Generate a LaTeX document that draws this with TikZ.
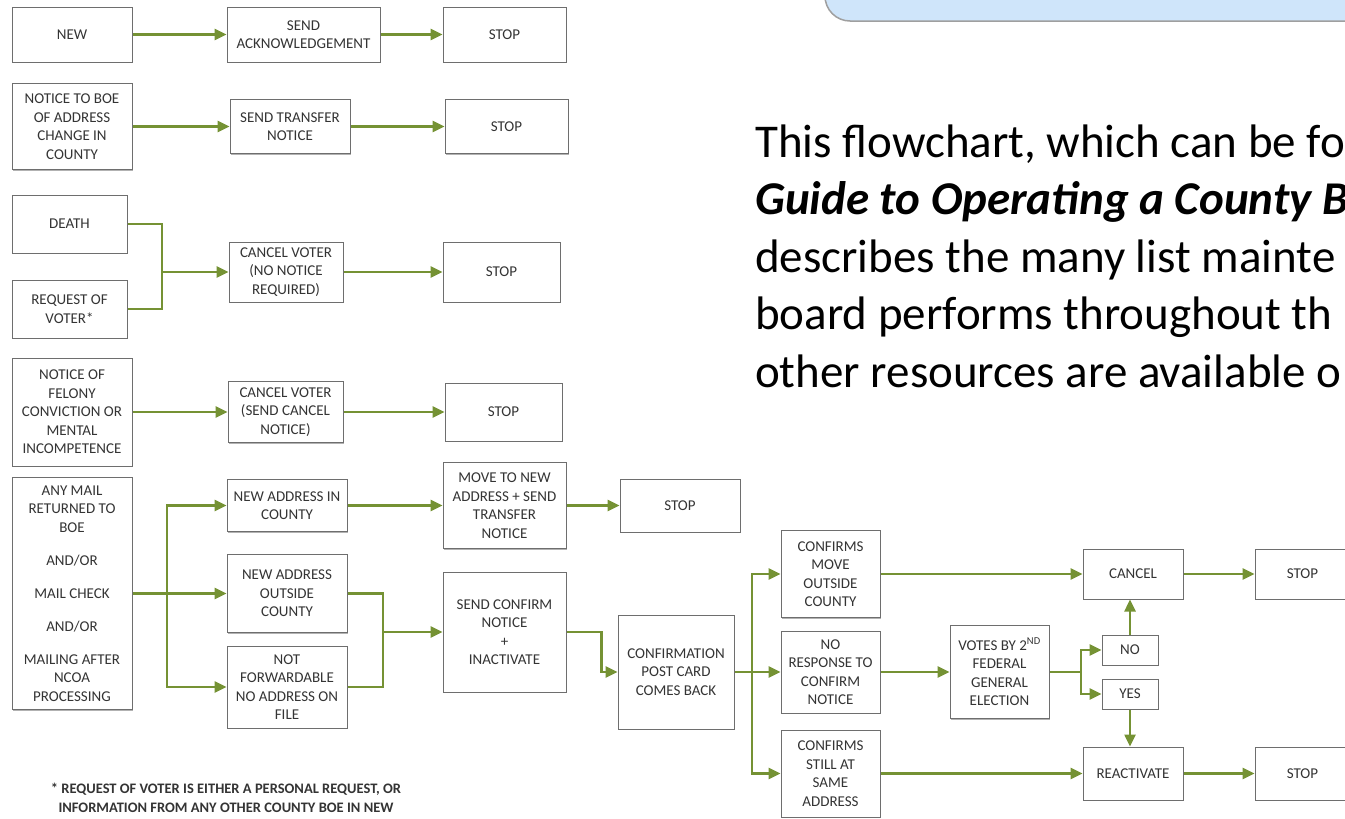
\documentclass[tikz,border=0pt]{standalone}
\usepackage{fontspec}
\setmainfont{Carlito}
\usepackage{xcolor}
\usetikzlibrary{positioning,arrows.meta,shadows}
\definecolor{flowgreen}{RGB}{117,146,52}
\definecolor{boxgray}{RGB}{110,110,110}
\definecolor{labelgray}{RGB}{52,52,52}
\definecolor{bannerblue}{RGB}{207,229,250}

\begin{document}
\begin{tikzpicture}[x=1pt,y=-1pt,
  flowbox/.style={draw=boxgray, line width=1pt, fill=white, align=center, inner sep=0pt,
    text=labelgray, font=\fontsize{15}{18.5}\selectfont,
    drop shadow={shadow xshift=0.6pt,shadow yshift=-1.3pt,fill=black,opacity=0.3}},
  flow/.style={draw=flowgreen, line width=2.5pt},
  paratext/.style={anchor=base west, inner sep=0pt, font=\fontsize{47}{57.5}\selectfont},
  >={Triangle[length=12pt,width=11pt]}]
\useasboundingbox (0,0) rectangle (1345,819);

\filldraw[fill=bannerblue, draw=gray!75, line width=1.5pt, rounded corners=25pt] (825,-40) rectangle (1420,21);

\node[paratext] (para1) at (755,157) {This flowchart, which can be fo};
\node[paratext, font=\fontsize{47}{57.5}\selectfont\bfseries\itshape] (para2) at (755,214.5) {Guide to Operating a County B};
\node[paratext] (para3) at (755,272) {describes the many list mainte};
\node[paratext] (para4) at (755,329.5) {board performs throughout th};
\node[paratext] (para5) at (755,387) {other resources are available o};

\node[flowbox, minimum width=120pt, minimum height=55pt] (new) at (72,34.5) {NEW};
\node[flowbox, minimum width=153pt, minimum height=55pt] (ack) at (303.5,34.5) {SEND\\ACKNOWLEDGEMENT};
\node[flowbox, minimum width=123pt, minimum height=55pt] (stopA) at (504.5,34.5) {STOP};

\node[flowbox, minimum width=120pt, minimum height=86pt] (addrchg) at (72,126.5) {NOTICE TO BOE\\OF ADDRESS\\CHANGE IN\\COUNTY};
\node[flowbox, minimum width=120pt, minimum height=54pt] (transfer) at (290,126.5) {SEND TRANSFER\\NOTICE};
\node[flowbox, minimum width=123pt, minimum height=54pt] (stopB) at (506.5,126.5) {STOP};

\node[flowbox, minimum width=115pt, minimum height=58pt] (death) at (69.5,224) {DEATH};
\node[flowbox, minimum width=115pt, minimum height=58pt] (request) at (69.5,309) {REQUEST OF\\VOTER*};
\node[flowbox, minimum width=114pt, minimum height=60pt] (cancelA) at (286,272) {CANCEL VOTER\\(NO NOTICE\\REQUIRED)};
\node[flowbox, minimum width=117pt, minimum height=60pt] (stopC) at (501.5,272) {STOP};

\node[flowbox, minimum width=120pt, minimum height=108pt] (felony) at (72,412) {NOTICE OF\\FELONY\\CONVICTION OR\\MENTAL\\INCOMPETENCE};
\node[flowbox, minimum width=115pt, minimum height=61pt] (cancelB) at (285.5,412) {CANCEL VOTER\\(SEND CANCEL\\NOTICE)};
\node[flowbox, minimum width=117pt, minimum height=58pt] (stopD) at (503.5,412) {STOP};

\node[flowbox, minimum width=120pt, minimum height=232pt] (mail) at (72,593.5) {ANY MAIL\\RETURNED TO\\BOE\\[14.5pt]AND/OR\\[14.5pt]MAIL CHECK\\[14.5pt]AND/OR\\[14.5pt]MAILING AFTER\\NCOA\\PROCESSING};
\node[flowbox, minimum width=120pt, minimum height=52pt] (inCounty) at (287,505.5) {NEW ADDRESS IN\\COUNTY};
\node[flowbox, minimum width=120pt, minimum height=78pt] (outCounty) at (287,593.5) {NEW ADDRESS\\OUTSIDE\\COUNTY};
\node[flowbox, minimum width=120pt, minimum height=82pt] (notFwd) at (287,687) {NOT\\FORWARDABLE\\NO ADDRESS ON\\FILE};
\node[flowbox, minimum width=123pt, minimum height=86pt] (moveTo) at (504.5,505.5) {MOVE TO NEW\\ADDRESS + SEND\\TRANSFER\\NOTICE};
\node[flowbox, minimum width=120pt, minimum height=53pt] (stopE) at (680,505.5) {STOP};
\node[flowbox, minimum width=123pt, minimum height=120pt] (confirm) at (504.5,632) {SEND CONFIRM\\NOTICE\\+\\INACTIVATE};
\node[flowbox, minimum width=116pt, minimum height=114pt] (postcard) at (676,672) {CONFIRMATION\\POST CARD\\COMES BACK};

\node[flowbox, minimum width=99pt, minimum height=87pt] (moveOut) at (830.5,574) {CONFIRMS\\MOVE\\OUTSIDE\\COUNTY};
\node[flowbox, minimum width=99pt, minimum height=82pt] (noResp) at (830.5,672) {NO\\RESPONSE TO\\CONFIRM\\NOTICE};
\node[flowbox, minimum width=99pt, minimum height=87pt] (still) at (830.5,773.5) {CONFIRMS\\STILL AT\\SAME\\ADDRESS};
\node[flowbox, minimum width=99pt, minimum height=93pt] (votes) at (999.5,672) {VOTES BY 2\textsuperscript{ND}\\FEDERAL\\GENERAL\\ELECTION};
\node[flowbox, minimum width=100pt, minimum height=50pt] (cancel) at (1133,574) {CANCEL};
\node[flowbox, minimum width=95pt, minimum height=50pt] (stopF) at (1302.5,574) {STOP};
\node[flowbox, minimum width=56pt, minimum height=30pt] (no) at (1130,650) {NO};
\node[flowbox, minimum width=56pt, minimum height=30pt] (yes) at (1130,694) {YES};
\node[flowbox, minimum width=100pt, minimum height=53pt] (reactivate) at (1133,773.5) {REACTIVATE};
\node[flowbox, minimum width=95pt, minimum height=53pt] (stopG) at (1302.5,773.5) {STOP};

\node[text=labelgray, align=center, inner sep=0pt, font=\fontsize{14.5}{19}\selectfont\bfseries] (note) at (226,798) {* REQUEST OF VOTER IS EITHER A PERSONAL REQUEST, OR\\INFORMATION FROM ANY OTHER COUNTY BOE IN NEW};

\coordinate (joinA) at (162,272);
\coordinate (split) at (167,593.5);
\coordinate (mergeA) at (383,632);
\coordinate (splitB) at (752,672);
\coordinate (splitC) at (1081,672);

\draw[flow,->] (new) -- (ack);
\draw[flow,->] (ack) -- (stopA);
\draw[flow,->] (addrchg) -- (transfer);
\draw[flow,->] (transfer) -- (stopB);
\draw[flow] (death) -| (joinA);
\draw[flow] (request) -| (joinA);
\draw[flow,->] (joinA) -- (cancelA);
\draw[flow,->] (cancelA) -- (stopC);
\draw[flow,->] (felony) -- (cancelB);
\draw[flow,->] (cancelB) -- (stopD);

\draw[flow,->] (mail) -- (outCounty);
\draw[flow,->] (split) |- (inCounty);
\draw[flow,->] (split) |- (notFwd);
\draw[flow,->] (inCounty) -- (moveTo);
\draw[flow,->] (moveTo) -- (stopE);
\draw[flow] (outCounty) -| (mergeA);
\draw[flow] (notFwd) -| (mergeA);
\draw[flow,->] (mergeA) -- (confirm);
\draw[flow,->] (confirm.east) -- ++(35,0) |- (postcard);

\draw[flow] (postcard) -- (splitB);
\draw[flow,->] (splitB) |- (moveOut);
\draw[flow,->] (splitB) -- (noResp);
\draw[flow,->] (splitB) |- (still);
\draw[flow,->] (moveOut) -- (cancel);
\draw[flow,->] (cancel) -- (stopF);
\draw[flow,->] (noResp) -- (votes);
\draw[flow] (votes) -- (splitC);
\draw[flow,->] (splitC) |- (no);
\draw[flow,->] (splitC) |- (yes);
\draw[flow,->] (no.north) -- (no.north |- cancel.south);
\draw[flow,->] (yes.south) -- (yes.south |- reactivate.north);
\draw[flow,->] (still) -- (reactivate);
\draw[flow,->] (reactivate) -- (stopG);
\end{tikzpicture}
\end{document}
